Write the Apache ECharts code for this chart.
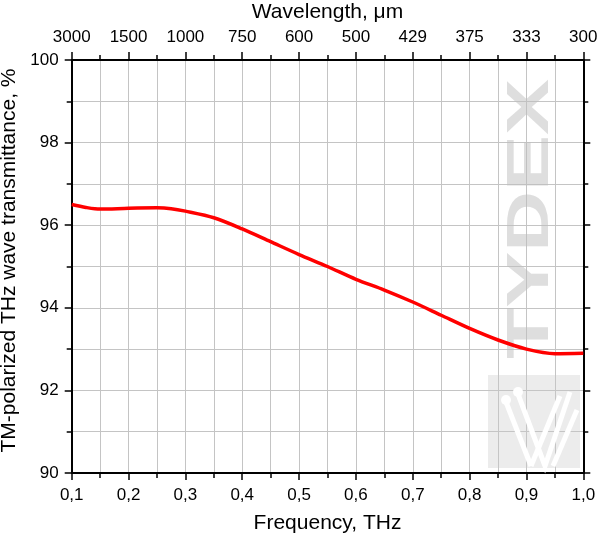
<!DOCTYPE html>
<html>
<head>
<meta charset="utf-8">
<script src="https://cdn.jsdelivr.net/npm/echarts@6/dist/echarts.min.js"></script>
<style>html,body{margin:0;padding:0;background:#fff}#c{width:600px;height:539px}</style>
</head>
<body>
<div id="c"></div>
<script>
var freq = [0.1, 0.125, 0.15, 0.2, 0.25, 0.275, 0.3, 0.35, 0.4, 0.45, 0.5, 0.55, 0.6, 0.65, 0.7, 0.75, 0.8, 0.85, 0.9, 0.95, 1.0];
var trans = [96.50, 96.43, 96.39, 96.41, 96.42, 96.40, 96.34, 96.18, 95.91, 95.60, 95.29, 95.00, 94.69, 94.43, 94.14, 93.82, 93.50, 93.22, 93.00, 92.89, 92.90];
var wavelengthLabels = ['3000', '1500', '1000', '750', '600', '500', '429', '375', '333', '300'];
var topTickFreq = [0.1, 0.2, 0.3, 0.4, 0.5, 0.6, 0.7, 0.8, 0.9, 1.0];

var font = 'Liberation Sans, Arial, sans-serif';
var chart = echarts.init(document.getElementById('c'), null, {renderer: 'canvas'});

function wl(v) {
  for (var i = 0; i < topTickFreq.length; i++) {
    if (Math.abs(topTickFreq[i] - v) < 1e-6) return wavelengthLabels[i];
  }
  return '';
}

var axisLine = {show: true, onZero: false, lineStyle: {color: '#000', width: 2}};
var splitLine = {show: true, lineStyle: {color: '#c4c4c4', width: 1}};

chart.setOption({
  animation: false,
  grid: {left: 71.7, right: 16.7, top: 60, bottom: 66, containLabel: false, outerBoundsMode: 'none'},
  xAxis: [{
    type: 'value', position: 'bottom', min: 0.1, max: 1.0, interval: 0.1,
    name: 'Frequency, THz', nameLocation: 'middle', nameGap: 39.5,
    nameTextStyle: {fontFamily: font, fontSize: 21, color: '#000'},
    axisLine: axisLine,
    axisTick: {show: true, inside: false, length: 7, lineStyle: {color: '#000', width: 1.5}},
    minorTick: {show: true, splitNumber: 2, length: 5, lineStyle: {color: '#000', width: 1.5}},
    splitLine: splitLine,
    minorSplitLine: splitLine,
    axisLabel: {fontFamily: font, fontSize: 17, color: '#000', margin: 14,
      formatter: function (v) { return v.toFixed(1).replace('.', ','); }}
  }, {
    type: 'value', position: 'top', min: 0.1, max: 1.0, interval: 0.1,
    name: 'Wavelength, \u03bcm', nameLocation: 'middle', nameGap: 37.5,
    nameTextStyle: {fontFamily: font, fontSize: 21, color: '#000'},
    axisLine: axisLine,
    axisTick: {show: true, inside: false, length: 8, lineStyle: {color: '#000', width: 1.5}},
    minorTick: {show: true, splitNumber: 2, length: 5, lineStyle: {color: '#000', width: 1.5}},
    splitLine: {show: false},
    axisLabel: {fontFamily: font, fontSize: 17, color: '#000', margin: 14, formatter: wl}
  }],
  yAxis: [{
    type: 'value', position: 'left', min: 90, max: 100, interval: 2,
    name: 'TM-polarized THz wave transmittance, %', nameLocation: 'middle', nameGap: 48.5,
    nameTextStyle: {fontFamily: font, fontSize: 21, color: '#000', padding: [0, 0, 0, 12]},
    axisLine: axisLine,
    axisTick: {show: true, inside: false, length: 7, lineStyle: {color: '#000', width: 1.5}},
    minorTick: {show: true, splitNumber: 2, length: 5, lineStyle: {color: '#000', width: 1.5}},
    splitLine: splitLine,
    minorSplitLine: splitLine,
    axisLabel: {fontFamily: font, fontSize: 17, color: '#000', margin: 13}
  }, {
    type: 'value', position: 'right', min: 90, max: 100, interval: 2,
    axisLine: axisLine,
    axisTick: {show: true, inside: false, length: 7, lineStyle: {color: '#000', width: 1.5}},
    minorTick: {show: true, splitNumber: 2, length: 5, lineStyle: {color: '#000', width: 1.5}},
    splitLine: {show: false},
    axisLabel: {show: false}
  }],
  graphic: [
    {type: 'text', z: 1, x: 531, y: 219, rotation: Math.PI / 2, scaleX: 1.4,
      style: {text: 'TYDEX', fontFamily: font, fontWeight: 'bold', fontSize: 60, fill: 'rgba(190,190,190,0.5)',
        align: 'center', verticalAlign: 'middle'}},
    {type: 'rect', z: 1, shape: {x: 488, y: 375, width: 92, height: 93},
      style: {fill: 'rgba(200,200,200,0.35)'}},
    {type: 'polyline', z: 1, shape: {points: [[506, 402], [531, 466]]}, style: {stroke: '#fff', lineWidth: 5, fill: null}},
    {type: 'polyline', z: 1, shape: {points: [[518, 394], [545, 466], [570, 392]]}, style: {stroke: '#fff', lineWidth: 5, fill: null}},
    {type: 'polyline', z: 1, shape: {points: [[531, 466], [560, 396]]}, style: {stroke: '#fff', lineWidth: 5, fill: null}},
    {type: 'polyline', z: 1, shape: {points: [[553, 466], [577, 410]]}, style: {stroke: '#fff', lineWidth: 5, fill: null}},
    {type: 'circle', z: 1, shape: {cx: 506, cy: 400, r: 5}, style: {fill: '#fff'}},
    {type: 'circle', z: 1, shape: {cx: 518, cy: 392, r: 5}, style: {fill: '#fff'}}
  ],
  series: [{
    type: 'line', xAxisIndex: 0, yAxisIndex: 0, z: 5,
    data: freq.map(function (f, i) { return [f, trans[i]]; }),
    smooth: 0.3, symbol: 'none',
    lineStyle: {color: '#ff0000', width: 3.5}
  }]
});
</script>
</body>
</html>
